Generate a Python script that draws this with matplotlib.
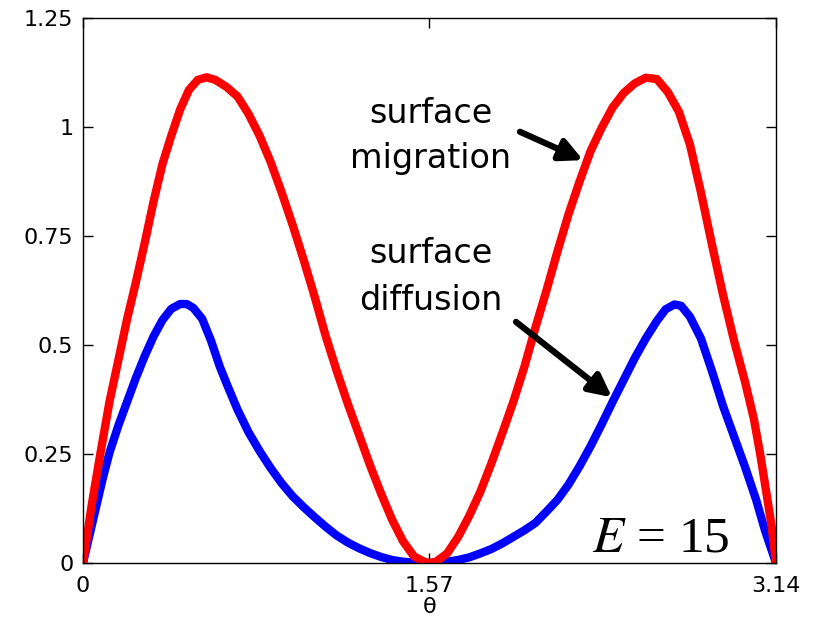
import matplotlib
matplotlib.use("Agg")
from matplotlib import pyplot as plt

plt.rcParams['font.family'] = ['DejaVu Sans']
plt.rcParams['mathtext.fontset'] = 'stix'

# surface migration curve (red)
thetaMigration = [0.0, 0.04, 0.08, 0.12, 0.16, 0.20, 0.24, 0.28, 0.32, 0.36,
                  0.40, 0.44, 0.48, 0.52, 0.56, 0.60, 0.65, 0.70, 0.75, 0.80,
                  0.85, 0.90, 0.95, 1.00, 1.05, 1.10, 1.15, 1.20, 1.25, 1.30,
                  1.35, 1.40, 1.45, 1.50, 1.55, 1.57, 1.60, 1.65, 1.70, 1.75,
                  1.80, 1.85, 1.90, 1.95, 2.00, 2.05, 2.10, 2.15, 2.20, 2.25,
                  2.30, 2.35, 2.40, 2.45, 2.50, 2.55, 2.60, 2.65, 2.70, 2.75,
                  2.80, 2.85, 2.90, 2.95, 3.00, 3.04, 3.07, 3.10, 3.12, 3.14]
valuesMigration = [0.0, 0.135, 0.255, 0.37, 0.465, 0.56, 0.645, 0.735, 0.83, 0.915,
                   0.98, 1.04, 1.085, 1.108, 1.114, 1.108, 1.092, 1.07, 1.03, 0.98,
                   0.92, 0.85, 0.775, 0.695, 0.61, 0.52, 0.44, 0.365, 0.295, 0.225,
                   0.16, 0.10, 0.05, 0.015, 0.002, 0.0, 0.003, 0.022, 0.06, 0.108,
                   0.163, 0.228, 0.298, 0.37, 0.45, 0.54, 0.625, 0.715, 0.80, 0.875,
                   0.945, 0.998, 1.045, 1.078, 1.10, 1.113, 1.11, 1.08, 1.035, 0.96,
                   0.85, 0.73, 0.615, 0.51, 0.415, 0.33, 0.245, 0.15, 0.085, 0.0]

# surface diffusion curve (blue)
thetaDiffusion = [0.0, 0.03, 0.06, 0.09, 0.12, 0.16, 0.20, 0.24, 0.28, 0.32,
                  0.36, 0.40, 0.44, 0.47, 0.50, 0.54, 0.58, 0.62, 0.66, 0.70,
                  0.75, 0.80, 0.85, 0.90, 0.95, 1.00, 1.05, 1.10, 1.15, 1.20,
                  1.25, 1.30, 1.35, 1.40, 1.45, 1.50, 1.57, 1.65, 1.70, 1.75,
                  1.80, 1.85, 1.90, 1.95, 2.00, 2.05, 2.10, 2.15, 2.20, 2.25,
                  2.30, 2.35, 2.40, 2.45, 2.50, 2.55, 2.60, 2.64, 2.68, 2.71,
                  2.75, 2.80, 2.85, 2.90, 2.95, 3.00, 3.05, 3.09, 3.12, 3.14]
valuesDiffusion = [0.0, 0.065, 0.13, 0.195, 0.253, 0.315, 0.37, 0.425, 0.475, 0.52,
                   0.557, 0.583, 0.594, 0.594, 0.585, 0.56, 0.51, 0.45, 0.40, 0.352,
                   0.30, 0.257, 0.218, 0.183, 0.153, 0.128, 0.105, 0.083, 0.063, 0.047,
                   0.034, 0.023, 0.014, 0.007, 0.003, 0.001, 0.0, 0.003, 0.007, 0.013,
                   0.022, 0.032, 0.045, 0.06, 0.075, 0.092, 0.118, 0.145, 0.18, 0.222,
                   0.268, 0.318, 0.37, 0.42, 0.47, 0.515, 0.555, 0.582, 0.593, 0.59,
                   0.565, 0.515, 0.44, 0.36, 0.29, 0.22, 0.145, 0.075, 0.03, 0.0]

xTicks = [0, 1.57, 3.14]
xTickLabels = ['0', '1.57', '3.14']
yTicks = [0, 0.25, 0.5, 0.75, 1, 1.25]
yTickLabels = ['0', '0.25', '0.5', '0.75', '1', '1.25']

fig = plt.figure(figsize=(8.17, 6.29), dpi=100)
ax = fig.add_axes([0.1016, 0.1049, 0.8482, 0.8665])

# blue first so the red line sits on top where they overlap
ax.plot(thetaDiffusion, valuesDiffusion, color='#0000ff', lw=6,
        solid_joinstyle='round', solid_capstyle='butt')
ax.plot(thetaMigration, valuesMigration, color='#ff0000', lw=6,
        solid_joinstyle='round', solid_capstyle='butt')

ax.set_xlim(0, 3.14)
ax.set_ylim(0, 1.25)
ax.set_xticks(xTicks)
ax.set_xticklabels(xTickLabels)
ax.set_yticks(yTicks)
ax.set_yticklabels(yTickLabels)
ax.tick_params(direction='in', length=7, width=1, labelsize=16,
               top=True, right=True, color='black')
ax.tick_params(axis='x', pad=9)
ax.tick_params(axis='y', pad=7)
for spine in ax.spines.values():
    spine.set_linewidth(1)
    spine.set_color('black')
ax.set_xlabel('θ', fontsize=16, labelpad=1)

# etiquetas das curvas
ax.text(1.577, 1.01, 'surface', fontsize=24, ha='center', va='baseline')
ax.text(1.577, 0.906, 'migration', fontsize=24, ha='center', va='baseline')
ax.text(1.577, 0.688, 'surface', fontsize=24, ha='center', va='baseline')
ax.text(1.577, 0.58, 'diffusion', fontsize=24, ha='center', va='baseline')

arrowStyle = dict(arrowstyle='-|>,head_length=0.9,head_width=0.45', color='black',
                  lw=4.5, shrinkA=0, shrinkB=0, mutation_scale=15)
ax.annotate('', xy=(2.266, 0.924), xytext=(1.98, 0.989), arrowprops=arrowStyle)
ax.annotate('', xy=(2.397, 0.380), xytext=(1.962, 0.553), arrowprops=arrowStyle)

ax.text(2.931, 0.026, '$E$ = 15', fontsize=37, family='Liberation Serif',
        ha='right', va='baseline')

plt.savefig('out.png', dpi=100)
